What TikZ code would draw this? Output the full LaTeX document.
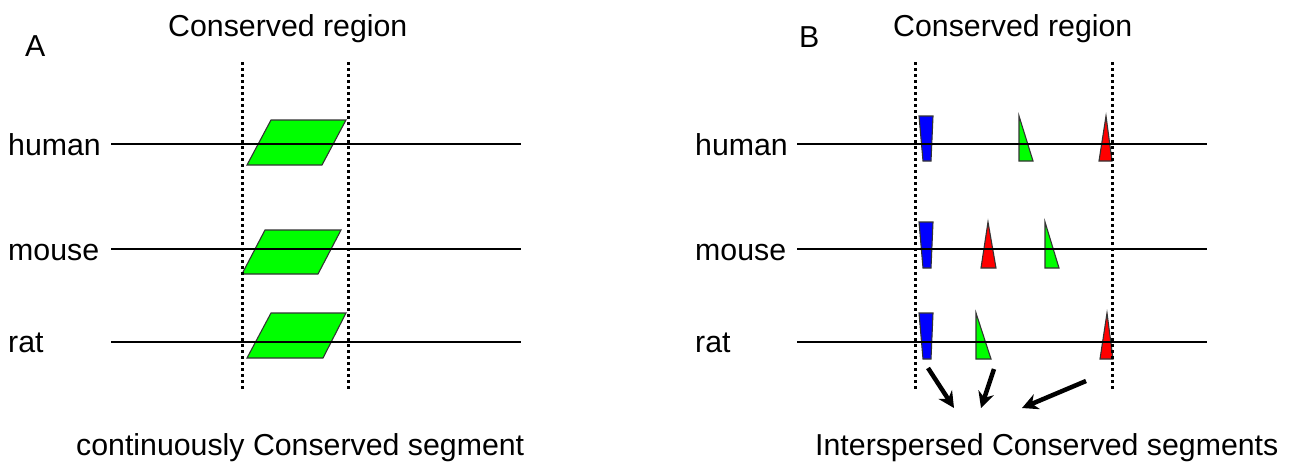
\documentclass[tikz,border=0pt]{standalone}
\usepackage{fontspec}
\setmainfont{Liberation Sans}
\usetikzlibrary{arrows.meta}
\tikzset{
  lbl/.style={anchor=base west, inner sep=0pt, font=\fontsize{30.3}{35}\selectfont},
  seqline/.style={draw=black, line width=1.8pt},
  bound/.style={draw=black, line width=3pt, dash pattern=on 3pt off 3pt},
  block/.style={draw=black!80, line width=1.1pt, line join=miter},
  gblock/.style={block, fill={rgb,255:red,0;green,255;blue,0}},
  bblock/.style={block, fill={rgb,255:red,0;green,0;blue,255}},
  rblock/.style={block, fill={rgb,255:red,255;green,0;blue,0}},
  pointer/.style={draw=black, line width=4.5pt, -{Stealth[length=16pt,width=16pt]}}
}
\begin{document}
\begin{tikzpicture}[x=1pt,y=-1pt]
\useasboundingbox (0,0) rectangle (1292,463);

% ---------- panel A ----------
\node[lbl] (labA) at (25,56) {A};
\node[lbl] (regA) at (168,36) {Conserved region};
\node[lbl] (hA) at (8,155) {human};
\node[lbl] (mA) at (8,260) {mouse};
\node[lbl] (rA) at (8,352) {rat};
\node[lbl] (capA) at (76,455) {continuously Conserved segment};

% continuous conserved blocks
\path[gblock] (271,120) -- (346,120) -- (322,165) -- (247,165) -- cycle;
\path[gblock] (265,230) -- (341,230) -- (318,274) -- (242,274) -- cycle;
\path[gblock] (271,313) -- (346,313) -- (323,358) -- (247,358) -- cycle;

\coordinate (hA1) at (111,144); \coordinate (hA2) at (521,144);
\coordinate (mA1) at (111,249); \coordinate (mA2) at (521,249);
\coordinate (rA1) at (111,342); \coordinate (rA2) at (521,342);
\draw[seqline] (hA1) -- (hA2);
\draw[seqline] (mA1) -- (mA2);
\draw[seqline] (rA1) -- (rA2);

\coordinate (aL1) at (242,62); \coordinate (aL2) at (242,390);
\coordinate (aR1) at (348,62); \coordinate (aR2) at (348,390);
\draw[bound] (aL1) -- (aL2);
\draw[bound] (aR1) -- (aR2);

% ---------- panel B ----------
\node[lbl] (labB) at (799,47) {B};
\node[lbl] (regB) at (893,36) {Conserved region};
\node[lbl] (hB) at (695,155) {human};
\node[lbl] (mB) at (695,260) {mouse};
\node[lbl] (rB) at (695,352) {rat};
\node[lbl] (capB) at (815,455) {Interspersed Conserved segments};

% human
\path[bblock] (919,116) -- (933,116) -- (931,161) -- (923,161) -- cycle;
\path[gblock] (1019,116) -- (1033,161) -- (1019,161) -- cycle;
\path[rblock] (1106,116) -- (1112,161) -- (1099,161) -- cycle;
% mouse
\path[bblock] (919,222) -- (933,222) -- (931,268) -- (923,268) -- cycle;
\path[rblock] (988,222) -- (996,268) -- (981,268) -- cycle;
\path[gblock] (1045,222) -- (1059,268) -- (1045,268) -- cycle;
% rat
\path[bblock] (919,313) -- (933,313) -- (931,359) -- (923,359) -- cycle;
\path[gblock] (976,313) -- (991,359) -- (976,359) -- cycle;
\path[rblock] (1107,313) -- (1113,359) -- (1100,359) -- cycle;

\coordinate (hB1) at (797,144); \coordinate (hB2) at (1207,144);
\coordinate (mB1) at (797,249); \coordinate (mB2) at (1207,249);
\coordinate (rB1) at (797,342); \coordinate (rB2) at (1207,342);
\draw[seqline] (hB1) -- (hB2);
\draw[seqline] (mB1) -- (mB2);
\draw[seqline] (rB1) -- (rB2);

\coordinate (bL1) at (915,62); \coordinate (bL2) at (915,390);
\coordinate (bR1) at (1112,62); \coordinate (bR2) at (1112,390);
\draw[bound] (bL1) -- (bL2);
\draw[bound] (bR1) -- (bR2);

% arrows gathering the segments
\coordinate (p1s) at (928,368); \coordinate (p1e) at (954,408);
\coordinate (p2s) at (994,369); \coordinate (p2e) at (981,408);
\coordinate (p3s) at (1086,381); \coordinate (p3e) at (1022,408);
\draw[pointer] (p1s) -- (p1e);
\draw[pointer] (p2s) -- (p2e);
\draw[pointer] (p3s) -- (p3e);
\end{tikzpicture}
\end{document}
